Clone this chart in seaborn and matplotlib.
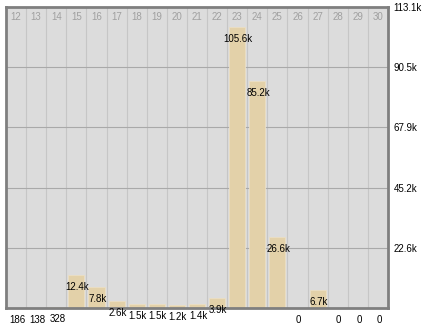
import matplotlib
matplotlib.use("Agg")
import matplotlib.pyplot as plt
import seaborn as sns
import pandas as pd

days = ["12", "13", "14", "15", "16", "17", "18", "19", "20", "21",
        "22", "23", "24", "25", "26", "27", "28", "29", "30"]
values = [186, 138, 328, 12400, 7800, 2600, 1500, 1500, 1200, 1400,
          3900, 105600, 85200, 26600, 0, 6700, 0, 0, 0]
value_labels = ["186", "138", "328", "12.4k", "7.8k", "2.6k", "1.5k", "1.5k",
                "1.2k", "1.4k", "3.9k", "105.6k", "85.2k", "26.6k", "0",
                "6.7k", "0", "0", "0"]
y_ticks = [22620, 45240, 67860, 90480, 113100]
y_tick_labels = ["22.6k", "45.2k", "67.9k", "90.5k", "113.1k"]
y_max = 113100

df = pd.DataFrame({"day": days, "value": values})

sns.set_style("white")
plt.rcParams["font.family"] = ["Liberation Sans", "DejaVu Sans"]

fig = plt.figure(figsize=(4.24, 3.29), dpi=100)
W, H = 424, 329
ax = fig.add_axes([6 / W, (H - 308) / H, (388 - 6) / W, (308 - 7) / H])
ax.set_facecolor("#dcdcdc")

sns.barplot(data=df, x="day", y="value", order=days, color="#e3d1a9",
            width=0.8, saturation=1, edgecolor="#ecdfc4", linewidth=0.6,
            ax=ax, zorder=2)

ax.set_xlim(-0.5, len(days) - 0.5)
ax.set_ylim(0, y_max)

# grid lines
for i in range(1, len(days)):
    ax.axvline(i - 0.5, color="#c6c6c6", lw=0.8, zorder=1)
for t in y_ticks[:-1]:
    ax.axhline(t, color="#a9a9a9", lw=0.8, zorder=1)

# right axis labels
ax.yaxis.tick_right()
ax.set_yticks(y_ticks)
ax.set_yticklabels(y_tick_labels)
ax.tick_params(axis="y", length=0, pad=4, labelsize=7, labelcolor="black")
ax.set_xticks([])
ax.set_xlabel("")
ax.set_ylabel("")

for s in ax.spines.values():
    s.set_visible(True)
    s.set_color("#7f7f7f")
    s.set_linewidth(2)

# column numbers at top
for i, d in enumerate(days):
    ax.annotate(d, xy=(i, y_max), xytext=(0, -10), textcoords="offset pixels",
                ha="center", va="center", fontsize=7, color="#a0a0a0",
                zorder=4)

# value labels
for i, (v, lab) in enumerate(zip(values, value_labels)):
    ax.annotate(lab, xy=(i, v), xytext=(1, -12), textcoords="offset pixels",
                ha="center", va="center", fontsize=7, color="black",
                annotation_clip=False, zorder=5)

fig.savefig("out.png", dpi=100)
